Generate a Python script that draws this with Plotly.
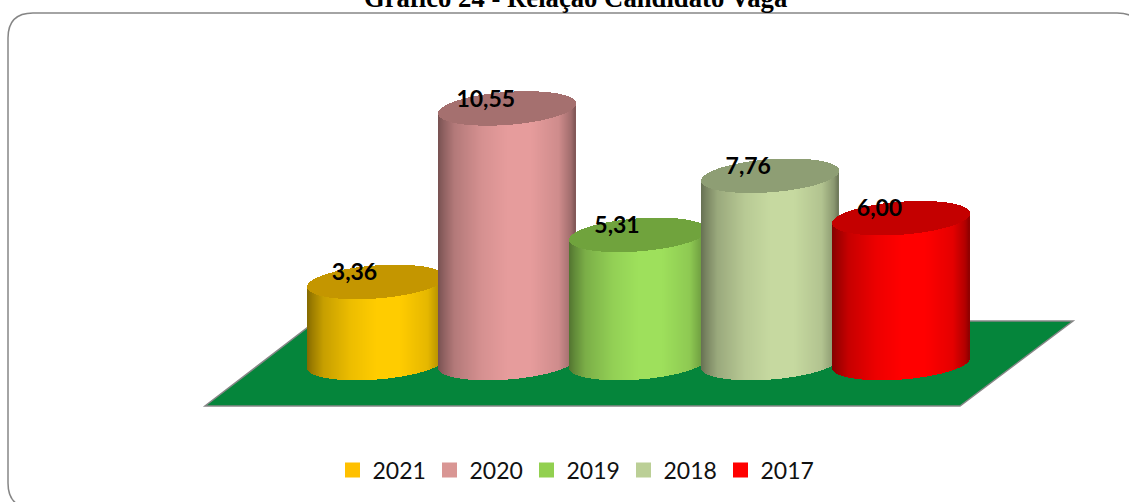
import numpy as np
import plotly.graph_objects as go

# ---- data ----
years = ["2021", "2020", "2019", "2018", "2017"]
values = [3.36, 10.55, 5.31, 7.76, 6.00]
value_labels = ["3,36", "10,55", "5,31", "7,76", "6,00"]
title_text = "<b>Gráfico 24 - Relação Candidato Vaga</b>"

# ---- styles ----
legend_colors = ["#FFC000", "#D99694", "#92D050", "#BBCF96", "#FF0000"]
body_colors = [(255, 204, 0), (230, 156, 156), (158, 224, 92), (198, 217, 160), (255, 0, 0)]
top_colors = ["#C49600", "#A5706F", "#70A33D", "#8E9E74", "#C40000"]
floor_color = "#05853B"
edge_color = "#868686"

# ---- geometry of the picture ----
W, H = 1129, 502
PX_PER_CAT = 131.25
PX_PER_UNIT = 24.13
X_FIRST = 376.0      # pixel of the first category centre
Y_ZERO = 363.0       # pixel of value zero
HALF_WIDTH = 68.6 / PX_PER_CAT
TILT = 5.0 / PX_PER_UNIT
MINOR = 16.5 / PX_PER_UNIT
STRIP = 1.0 / PX_PER_CAT

stops_u = [0.0, 0.04, 0.12, 0.32, 0.50, 0.68, 0.88, 0.97, 1.0]
stops_k = [0.52, 0.62, 0.78, 0.93, 1.0, 1.0, 0.90, 0.70, 0.55]


def shade(rgb, u):
    k = np.interp(u, stops_u, stops_k)
    return [f"rgb({int(rgb[0] * a)},{int(rgb[1] * a)},{int(rgb[2] * a)})" for a in k]


fig = go.Figure()
for i, (year, value) in enumerate(zip(years, values)):
    xs = np.arange(i - HALF_WIDTH + STRIP / 2, i + HALF_WIDTH, STRIP)
    q = np.clip((xs - i) / HALF_WIDTH, -1, 1)
    half = MINOR * np.sqrt(1 - q ** 2)
    low = TILT * q - half
    # cylinder wall
    fig.add_trace(go.Bar(
        x=xs, base=low, y=np.full_like(xs, value), width=STRIP * 1.15,
        marker=dict(color=shade(body_colors[i], (q + 1) / 2), line_width=0),
        showlegend=False, hoverinfo="skip"))
    # cylinder top
    fig.add_trace(go.Bar(
        x=xs, base=value + low, y=2 * half, width=STRIP * 1.15,
        marker=dict(color=top_colors[i], line_width=0),
        showlegend=False, hoverinfo="skip"))

# value labels
fig.add_trace(go.Scatter(
    x=[i - 21.5 / PX_PER_CAT for i in range(len(years))],
    y=[v + 7.5 / PX_PER_UNIT for v in values],
    mode="text", text=value_labels, textposition="middle center",
    textfont=dict(family="Lato", size=23, color="black", weight="bold"),
    showlegend=False, hoverinfo="skip"))

# legend entries
for year, color in zip(years, legend_colors):
    fig.add_trace(go.Scatter(
        x=[None], y=[None], mode="markers", name=year,
        marker=dict(symbol="square", size=15, color=color)))


def px(x):
    return x / W


def py(y):
    return 1 - y / H


floor = [(205, 406), (960, 406), (1073, 321), (316, 321)]
floor_path = "M " + " L ".join(f"{px(a):.5f},{py(b):.5f}" for a, b in floor) + " Z"
box_path = (f"M {px(8)},{py(38)} Q {px(8)},{py(13)} {px(33)},{py(13)} "
            f"L {px(1117)},{py(13)} Q {px(1142)},{py(13)} {px(1142)},{py(38)} "
            f"L {px(1142)},{py(483)} Q {px(1142)},{py(508)} {px(1117)},{py(508)} "
            f"L {px(33)},{py(508)} Q {px(8)},{py(508)} {px(8)},{py(483)} Z")

fig.update_layout(
    width=W, height=H, autosize=False,
    margin=dict(l=0, r=0, t=0, b=0),
    paper_bgcolor="white", plot_bgcolor="rgba(0,0,0,0)",
    barmode="overlay", bargap=0,
    showlegend=True,
    legend=dict(orientation="h", x=332.5 / W, xanchor="left", y=1 - 470 / H, yanchor="middle",
                font=dict(family="Lato", size=23, color="#111111"),
                itemwidth=30, entrywidth=52, entrywidthmode="pixels",
                itemsizing="trace", bgcolor="rgba(0,0,0,0)", tracegroupgap=0,
                itemclick=False, itemdoubleclick=False),
    xaxis=dict(visible=False, fixedrange=True,
               range=[-X_FIRST / PX_PER_CAT, (W - X_FIRST) / PX_PER_CAT]),
    yaxis=dict(visible=False, fixedrange=True,
               range=[(Y_ZERO - H) / PX_PER_UNIT, Y_ZERO / PX_PER_UNIT]),
    shapes=[
        dict(type="path", xref="paper", yref="paper", path=box_path, layer="below",
             line=dict(color=edge_color, width=1.5), fillcolor="rgba(0,0,0,0)"),
        dict(type="path", xref="paper", yref="paper", path=floor_path, layer="below",
             line=dict(color=edge_color, width=1.5), fillcolor=floor_color),
    ],
    annotations=[dict(text=title_text, xref="paper", yref="paper", x=575 / W, y=1 - 13 / H,
                      xanchor="center", yanchor="bottom", showarrow=False, borderpad=0, borderwidth=0,
                      font=dict(family="Liberation Serif", size=26.7, color="black"))],
)

fig.write_html("out.html", config={"displayModeBar": False},
               post_script="document.body.style.margin='0';document.body.style.overflow='hidden';")
